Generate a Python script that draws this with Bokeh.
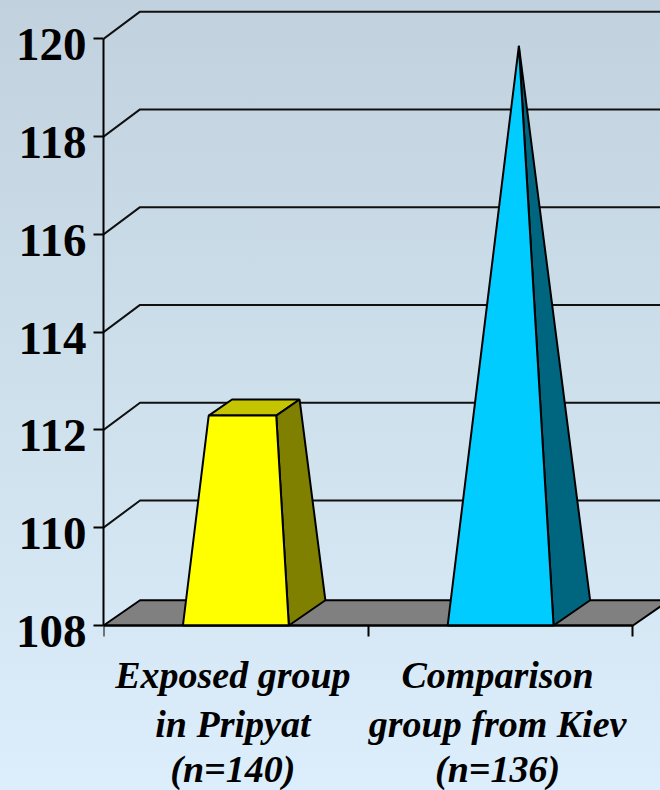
from bokeh.embed import file_html
from bokeh.resources import INLINE
from bokeh.plotting import figure
from bokeh.models import Range1d, LinearAxis, FixedTicker
from bokeh.core.properties import value

# ---- data
categories = [["Exposed group", "in Pripyat", "(n=140)"],
              ["Comparison", "group from Kiev", "(n=136)"]]
values = [112.2, 119.6]
y_ticks = [108, 110, 112, 114, 116, 118, 120]
x_ticks = [0, 1, 2]
front_colors = ["#FFFF00", "#00CCFF"]
side_colors = ["#808000", "#006680"]
top_colors = ["#C4C400", "#00A3CC"]

# ---- layout (pixels in figure space)
W, H = 660, 790
FRAME_L = 103.5
PX_X = 264.5
PX_Y = 48.88
ZERO_Y = 625           # pixel row of value 108 in the figure
Y0 = 108 - (H - ZERO_Y) / PX_Y
Y1 = 108 + ZERO_Y / PX_Y
X1 = (W - FRAME_L) / PX_X
DX = 36.5 / PX_X       # 3D depth
DY = 25.3 / PX_Y
GRID_DY = 27.3 / PX_Y
HALF = 0.2
LABEL_SHIFT = 6 / PX_Y
SERIF = "Liberation Serif"
INK = "#000000"
LW = 2

p = figure(width=W, height=H, output_backend="svg", toolbar_location=None,
           x_range=Range1d(0, X1), y_range=Range1d(Y0, Y1),
           x_axis_location=None, y_axis_location=None,
           min_border_left=int(FRAME_L), min_border_right=0, min_border_top=0,
           min_border_bottom=0)
p.background_fill_color = None
p.border_fill_color = None
p.outline_line_color = None
p.grid.visible = False

# floor
base = y_ticks[0]
p.patch([0, DX, x_ticks[-1] + DX, x_ticks[-1]], [base, base + DY, base + DY, base],
        fill_color="#808080", line_color=INK, line_width=LW)
# walls' gridlines
p.multi_line([[0, DX, X1 + 1] for _ in y_ticks[1:]],
             [[v, v + GRID_DY, v + GRID_DY] for v in y_ticks[1:]],
             line_color="#111111", line_width=LW)

# pyramids
peak = max(values) - base
poly = lambda pts: ([a for a, _ in pts], [b for _, b in pts])
for i, v in enumerate(values):
    cx = i + 0.5 + DX / 2
    cy = base + DY / 2
    h = v - base
    s = 1 - h / peak
    def low(sx, sy):
        return (cx + sx * HALF + sy * DX / 2, cy + sy * DY / 2)
    def up(sx, sy):
        return (cx + (sx * HALF + sy * DX / 2) * s, cy + sy * DY / 2 * s + h)
    fl, fr, br = low(-1, -1), low(1, -1), low(1, 1)
    tfl, tfr, tbr, tbl = up(-1, -1), up(1, -1), up(1, 1), up(-1, 1)
    xs, ys = poly([tfl, tfr, tbr, tbl])
    p.patch(xs, ys, fill_color=top_colors[i], line_color=INK, line_width=LW)
    xs, ys = poly([fr, br, tbr, tfr])
    p.patch(xs, ys, fill_color=side_colors[i], line_color=INK, line_width=LW)
    xs, ys = poly([fl, fr, tfr, tfl])
    p.patch(xs, ys, fill_color=front_colors[i], line_color=INK, line_width=LW)

# axes
p.extra_y_ranges = {"labels": Range1d(Y0 + LABEL_SHIFT, Y1 + LABEL_SHIFT)}

yaxis = LinearAxis(ticker=FixedTicker(ticks=y_ticks), bounds=(y_ticks[0], y_ticks[-1]),
                   major_label_overrides={v: "" for v in y_ticks},
                   major_tick_in=0, major_tick_out=10, minor_tick_line_color=None,
                   axis_line_color=INK, axis_line_width=LW,
                   major_tick_line_color=INK, major_tick_line_width=LW,
                   major_label_standoff=0, major_label_text_font_size="1px")
p.add_layout(yaxis, "left")

ylabels = LinearAxis(y_range_name="labels", ticker=FixedTicker(ticks=y_ticks),
                     axis_line_color=None, major_tick_line_color=None,
                     minor_tick_line_color=None, major_tick_in=0, major_tick_out=0,
                     major_label_standoff=7,
                     major_label_text_font=SERIF, major_label_text_font_style="bold",
                     major_label_text_font_size="47px", major_label_text_color=INK)
p.add_layout(ylabels, "left")

xaxis = LinearAxis(ticker=FixedTicker(ticks=x_ticks), bounds=(x_ticks[0], x_ticks[-1]),
                   fixed_location=base,
                   major_label_overrides={v: "" for v in x_ticks},
                   major_tick_in=0, major_tick_out=11, minor_tick_line_color=None,
                   axis_line_color=INK, axis_line_width=LW,
                   major_tick_line_color=INK, major_tick_line_width=LW,
                   major_label_text_font_size="1px", major_label_standoff=0)
p.add_layout(xaxis, "below")

# category labels
LINE_OFFSETS = [49, 98, 143]
for i, lines in enumerate(categories):
    p.text(x=[i + 0.5] * len(lines), y=[base] * len(lines), text=lines,
           x_offset=-3, y_offset=LINE_OFFSETS,
           text_font=value(SERIF), text_font_style="bold italic",
           text_font_size="38px", text_align="center",
           text_baseline="alphabetic", text_color=INK)

html = file_html(p, INLINE)
html = html.replace("</head>",
    "<style>html{height:790px;background:linear-gradient(180deg,#C1D2DE 0,#DCEEFB 790px) no-repeat}"
    "body{background:transparent}</style></head>", 1)
open("out.html", "w").write(html)
